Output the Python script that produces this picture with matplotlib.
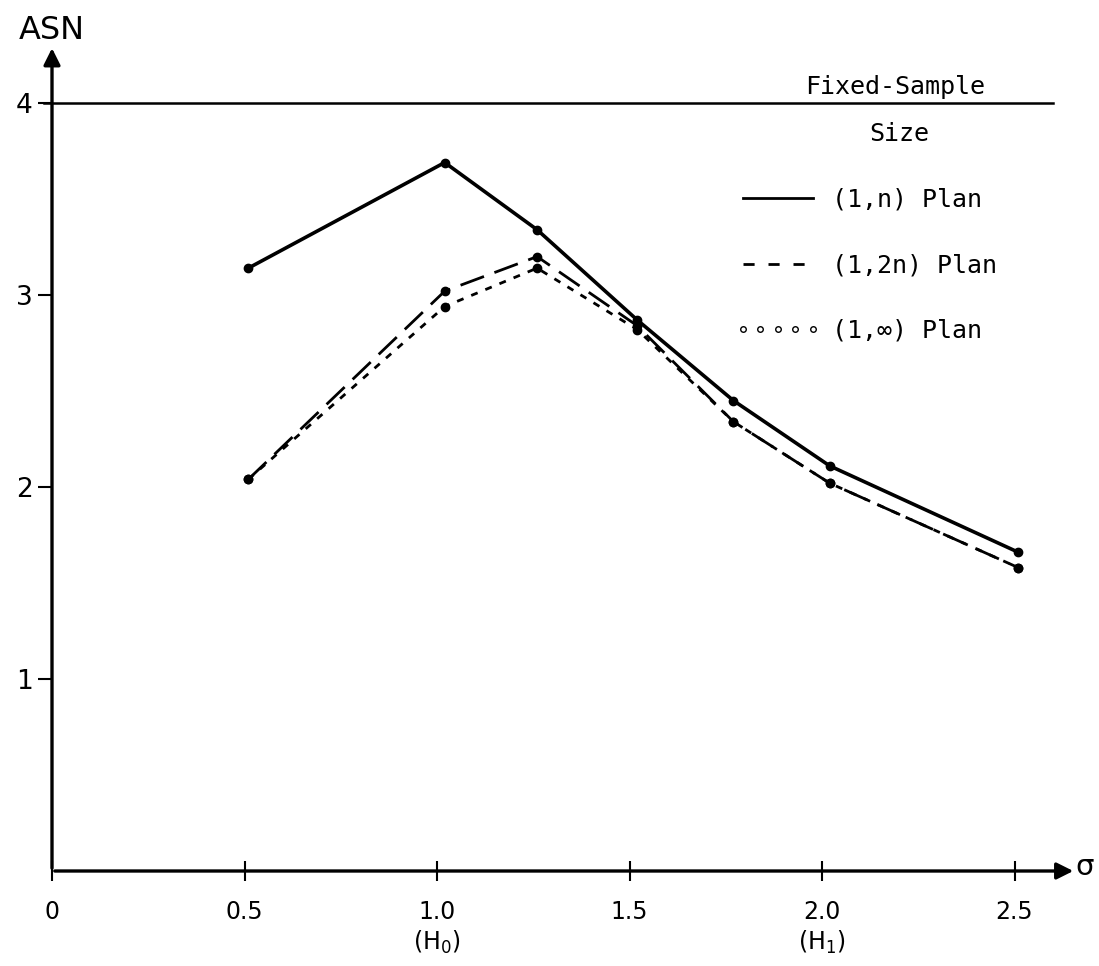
import numpy as np
import matplotlib
matplotlib.use("Agg")
import matplotlib.pyplot as plt
from matplotlib.lines import Line2D

# values
sigma = [0.51, 1.02, 1.26, 1.52, 1.77, 2.02, 2.51]
asn_1n = [3.14, 3.69, 3.34, 2.87, 2.45, 2.11, 1.66]
asn_12n = [2.04, 3.02, 3.20, 2.84, 2.34, 2.02, 1.58]
asn_1inf = [2.04, 2.94, 3.14, 2.82, 2.34, 2.02, 1.58]
fixed_size = 4

xticks = [0, 0.5, 1.0, 1.5, 2.0, 2.5]
xticklabels = ["0", "0.5", "1.0\n(H$_0$)", "1.5", "2.0\n(H$_1$)", "2.5"]
yticks = [1, 2, 3, 4]
labels = ["(1,n) Plan", "(1,2n) Plan", "(1,\u221e) Plan"]

W, H = 1099, 966
fig = plt.figure(figsize=(W / 100, H / 100), dpi=100)
ax = fig.add_axes([52 / W, 95 / H, 1047 / W, 871 / H])
ax.set_xlim(0, 1047 / 385)
ax.set_ylim(0, 871 / 192)

for s in ax.spines.values():
    s.set_visible(False)

# axes drawn as arrows
ax.annotate("", xy=(2.66, 0), xytext=(0, 0),
            arrowprops=dict(arrowstyle="-|>", lw=2.4, color="black", mutation_scale=25),
            annotation_clip=False)
ax.annotate("", xy=(0, 4.3), xytext=(0, 0),
            arrowprops=dict(arrowstyle="-|>", lw=2.4, color="black", mutation_scale=25),
            annotation_clip=False)

ax.set_xticks(xticks)
ax.set_xticklabels(xticklabels, fontsize=17, family="DejaVu Sans")
ax.set_yticks(yticks)
ax.set_yticklabels([str(t) for t in yticks], fontsize=19, family="DejaVu Sans")
ax.tick_params(axis="x", direction="inout", length=14, width=1.5, pad=14)
ax.tick_params(axis="y", direction="out", length=10, width=1.5, pad=4)

# fixed sample size line
ax.plot([-0.02, 2.6], [fixed_size, fixed_size], color="black", lw=1.8, clip_on=False)

ax.plot(sigma, asn_1n, color="black", lw=2.6, marker="o", ms=6)
ax.plot(sigma, asn_12n, color="black", lw=2.0, dashes=(9, 4), marker="o", ms=6)
ax.plot(sigma, asn_1inf, color="black", lw=2.0, dashes=(2.5, 3), marker="o", ms=6)

mono = "DejaVu Sans Mono"
ax.text(2.19, fixed_size + 0.02, "Fixed-Sample", fontsize=18, family=mono,
        ha="center", va="bottom")
ax.text(2.2, fixed_size - 0.16, "Size", fontsize=18, family=mono,
        ha="center", va="center")

ax.text(0.0, 4.38, "ASN", fontsize=23, family="DejaVu Sans", ha="center",
        va="center", clip_on=False)
ax.text(2.683, 0.02, "\u03c3", fontsize=21, family="DejaVu Sans", ha="center",
        va="center", clip_on=False)

handles = [
    Line2D([], [], color="black", lw=2.0),
    Line2D([], [], color="black", lw=2.0, dashes=(4, 5)),
    Line2D([], [], color="black", ls="none", marker="o", ms=4, mfc="white", mew=1),
]
ax.legend(handles, labels, loc="upper left", bbox_to_anchor=(735 / W, 1 - 188 / H),
          bbox_transform=fig.transFigure, frameon=False, prop=dict(family=mono, size=18),
          handlelength=3.4, handletextpad=0.5, labelspacing=1.65, numpoints=5,
          borderpad=0, borderaxespad=0)

fig.savefig("out.png", dpi=100)
